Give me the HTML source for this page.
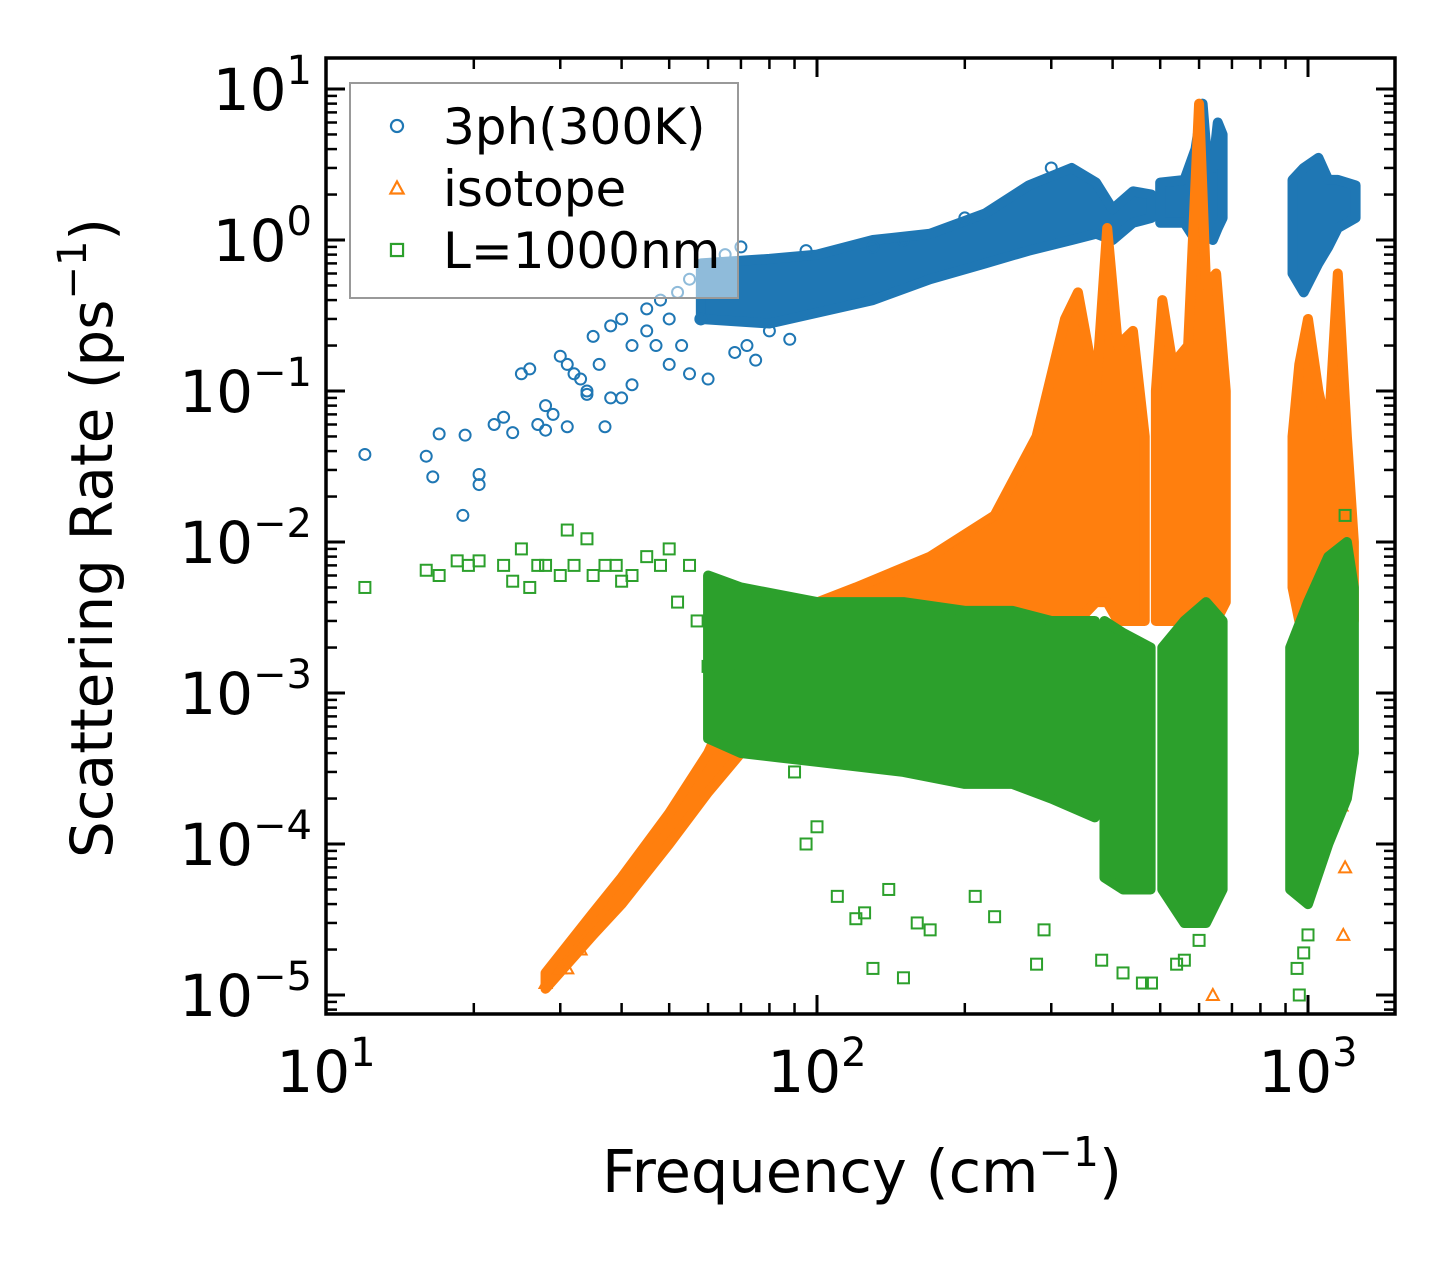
<!DOCTYPE html>
<html><head><meta charset="utf-8"><style>
html,body{margin:0;padding:0;background:#fff}
svg text{font-family:"DejaVu Sans","Liberation Sans",sans-serif;fill:#000}
</style></head><body>
<svg id="chart" width="1455" height="1265" viewBox="0 0 1455 1265" xmlns="http://www.w3.org/2000/svg">
<rect width="1455" height="1265" fill="#fff"/>
<g id="marks"></g>
<g id="axes"></g>
<g id="legend"></g>
</svg>
<script>
// ---- data ----
const xTickValues=[10,100,1000];
const xTickExps=["1","2","3"];
const yTickValues=[10,1,0.1,0.01,0.001,0.0001,0.00001];
const yTickExps=["1","0","−1","−2","−3","−4","−5"];
const blueBands=[
 [[58,0.3,0.7],[80,0.28,0.75],[100,0.33,0.8],[130,0.4,1.0],[170,0.55,1.1],[220,0.7,1.5],[270,0.85,2.3],[330,1.0,3.0],[370,1.1,2.4],[400,1.0,1.6],[440,1.3,2.1],[480,1.4,2.0]],
 [[500,1.3,2.4],[560,1.3,2.5],[590,1.0,4],[610,1.2,8],[625,1.1,3],[640,1.0,3],[655,1.2,6],[670,1.4,5]],
 [[930,0.6,2.5],[980,0.45,3],[1050,0.7,3.5],[1100,0.9,2.5],[1150,1.2,2.5],[1250,1.4,2.3]]
];
const bluePoints=[[12,0.038],[16,0.037],[16.5,0.027],[17,0.052],[19,0.015],[19.2,0.051],[20.5,0.028],[20.5,0.024],[22,0.06],[23,0.067],[24,0.053],[25,0.13],[26,0.14],[27,0.06],[28,0.055],[28,0.08],[29,0.07],[30,0.17],[31,0.058],[31,0.15],[32,0.13],[33,0.12],[34,0.1],[34,0.095],[35,0.23],[36,0.15],[37,0.058],[38,0.27],[38,0.09],[40,0.3],[40,0.09],[42,0.2],[42,0.11],[45,0.25],[45,0.35],[47,0.2],[48,0.4],[50,0.3],[50,0.15],[52,0.45],[53,0.2],[55,0.55],[55,0.13],[58,0.3],[60,0.12],[62,0.6],[65,0.8],[68,0.18],[70,0.9],[72,0.2],[75,0.16],[80,0.25],[88,0.22],[95,0.85],[130,0.9],[150,1.0],[200,1.4],[300,3.0]];
const orangeBands=[
 [[28,1.1e-5,1.4e-5],[35,2.5e-5,3.5e-5],[40,4e-5,6e-5],[50,1e-4,1.6e-4],[60,2.2e-4,4e-4],[70,4e-4,1.2e-3],[80,6e-4,3e-3],[120,8e-4,5e-3],[170,1e-3,8e-3],[230,2e-3,1.5e-2],[280,3e-3,0.05],[320,3e-3,0.3],[340,3e-3,0.45],[370,4e-3,0.1],[390,4e-3,1.2],[410,3e-3,0.2],[440,3e-3,0.25],[465,3e-3,0.05]],
 [[490,3e-3,0.1],[505,3e-3,0.4],[530,3e-3,0.15],[570,3e-3,0.2],[600,3e-3,8],[620,3e-3,0.5],[650,3e-3,0.6],[680,4e-3,0.1]],
 [[930,5e-3,0.05],[960,3e-3,0.15],[1000,2e-3,0.3],[1050,3e-3,0.1],[1100,2e-3,0.05],[1150,3e-3,0.6],[1200,3e-3,0.05],[1240,3e-3,0.01]]
];
const orangePoints=[[28,1.2e-5],[30,1.5e-5],[31,1.5e-5],[33,2e-5],[640,1e-5],[1180,2.5e-5],[1190,7e-5],[1170,1.8e-4],[660,1.2e-4]];
const greenBands=[
 [[60,5e-4,6e-3],[70,4e-4,5e-3],[100,3.5e-4,4e-3],[150,3e-4,4e-3],[200,2.5e-4,3.5e-3],[250,2.5e-4,3.5e-3],[300,2e-4,3e-3],[368,1.5e-4,3e-3]],
 [[385,6e-5,3e-3],[420,5e-5,2.5e-3],[478,5e-5,2e-3]],
 [[505,5e-5,2e-3],[560,3e-5,3e-3],[620,3e-5,4e-3],[670,5e-5,3e-3]],
 [[920,5e-5,2e-3],[1000,4e-5,4e-3],[1100,1e-4,8e-3],[1200,2e-4,1e-2],[1240,4e-4,5e-3]]
];
const greenPoints=[[12,5e-3],[16,6.5e-3],[17,6e-3],[18.5,7.5e-3],[19.5,7e-3],[20.5,7.5e-3],[23,7e-3],[24,5.5e-3],[25,9e-3],[26,5e-3],[27,7e-3],[28,7e-3],[30,6e-3],[31,1.2e-2],[32,7e-3],[34,1.05e-2],[35,6e-3],[37,7e-3],[39,7e-3],[40,5.5e-3],[42,6e-3],[45,8e-3],[48,7e-3],[50,9e-3],[52,4e-3],[55,7e-3],[57,3e-3],[60,1.5e-3],[62,2e-3],[65,1e-3],[67,7.5e-4],[70,1.3e-3],[75,5e-4],[90,3e-4],[95,1e-4],[100,1.3e-4],[110,4.5e-5],[120,3.2e-5],[125,3.5e-5],[130,1.5e-5],[140,5e-5],[150,1.3e-5],[160,3e-5],[170,2.7e-5],[210,4.5e-5],[230,3.3e-5],[280,1.6e-5],[290,2.7e-5],[380,1.7e-5],[420,1.4e-5],[460,1.2e-5],[480,1.2e-5],[540,1.6e-5],[560,1.7e-5],[600,2.3e-5],[950,1.5e-5],[960,1e-5],[980,1.9e-5],[1000,2.5e-5],[1190,1.5e-2]];

// ---- axes ----
const X0=326,X1=1395,Y0=58,Y1=1014,DX=491,DY=151;
function xs(f){return X0+DX*Math.log10(f/10);}
function ys(v){return 240-DY*Math.log10(v);}
const NS="http://www.w3.org/2000/svg";
function mk(tag,attrs,parent){const e=document.createElementNS(NS,tag);for(const k in attrs)e.setAttribute(k,attrs[k]);parent.appendChild(e);return e;}
const marks=document.getElementById('marks'),axes=document.getElementById('axes'),leg=document.getElementById('legend');
const C={b:"#1f77b4",o:"#ff7f0e",g:"#2ca02c"};
function bands(list,color,name){
 list.forEach(seg=>{
  let top=seg.map(p=>xs(p[0])+","+ys(p[2]));
  let bot=seg.slice().reverse().map(p=>xs(p[0])+","+ys(p[1]));
  const e=mk('polygon',{points:top.concat(bot).join(" "),fill:color,stroke:color,'stroke-width':10,'stroke-linejoin':'round'},marks);
  
  
 });
}
function circle(x,y,c,p,s){s=s||1;return mk('circle',{cx:x,cy:y,r:5.5*s,fill:'none',stroke:c,'stroke-width':2*s},p);}
function tri(x,y,c,p,s){s=s||1;return mk('polygon',{points:`${x},${y-6*s} ${x-6*s},${y+5*s} ${x+6*s},${y+5*s}`,fill:'none',stroke:c,'stroke-width':2*s},p);}
function sq(x,y,c,p,s){s=s||1;return mk('rect',{x:x-5.5*s,y:y-5.5*s,width:11*s,height:11*s,fill:'none',stroke:c,'stroke-width':2*s},p);}
bands(blueBands,C.b,'3ph-dense-cloud');
bluePoints.forEach(p=>{const e=circle(xs(p[0]),ys(p[1]),C.b,marks);
 
 });
bands(orangeBands,C.o,'isotope-dense-cloud');
orangePoints.forEach(p=>{const e=tri(xs(p[0]),ys(p[1]),C.o,marks);
 
 });
bands(greenBands,C.g,'boundary-dense-cloud');
greenPoints.forEach(p=>{const e=sq(xs(p[0]),ys(p[1]),C.g,marks);
 
 });

// ticks
function line(x1,y1,x2,y2,w){return mk('line',{x1,y1,x2,y2,stroke:'#000','stroke-width':w},axes);}
for(let d=10;d<=1000;d*=10){
 for(let m=1;m<=9;m++){
  const f=d*m; const x=xs(f); if(x<X0-1||x>X1+1)continue;
  const L=m===1?19:11, w=m===1?3:2.5;
  line(x,Y1,x,Y1-L,w); line(x,Y0,x,Y0+L,w);
 }
}
for(let e=-6;e<=1;e++){
 for(let m=1;m<=9;m++){
  const v=m*Math.pow(10,e); const y=ys(v); if(y<Y0-1||y>Y1+1)continue;
  const L=m===1?19:11, w=m===1?3:2.5;
  line(X0,y,X0+L,y,w); line(X1,y,X1-L,y,w);
 }
}
mk('rect',{x:X0,y:Y0,width:X1-X0,height:Y1-Y0,fill:'none',stroke:'#000','stroke-width':3.5},axes);
xTickValues.forEach((v,i)=>{
 const t=mk('text',{x:xs(v),y:1092,'text-anchor':'middle','font-size':58},axes);
 
 
 t.innerHTML=`10<tspan dy="-26" font-size="40">${xTickExps[i]}</tspan>`;
});
yTickValues.forEach((v,i)=>{
 const t=mk('text',{x:312,y:ys(v)+21,'text-anchor':'end','font-size':58},axes);
 
 
 t.innerHTML=`10<tspan dy="-26" font-size="40">${yTickExps[i]}</tspan>`;
});
const xl=mk('text',{x:862,y:1192,'text-anchor':'middle','font-size':59},axes);


xl.innerHTML='Frequency (cm<tspan dy="-26" font-size="41">−1</tspan><tspan dy="26">)</tspan>';
const yl=mk('text',{x:0,y:0,'text-anchor':'middle','font-size':58,transform:'translate(112,538) rotate(-90)'},axes);


yl.innerHTML='Scattering Rate (ps<tspan dy="-26" font-size="40">−1</tspan><tspan dy="26">)</tspan>';

// legend
mk('rect',{x:350,y:83,width:388,height:215,fill:'#fff','fill-opacity':0.5,stroke:'#999','stroke-width':2},leg);
const items=[["3ph(300K)",circle,C.b,'legend-entry-3ph'],["isotope",tri,C.o,'legend-entry-isotope'],["L=1000nm",sq,C.g,'legend-entry-boundary']];
items.forEach((it,i)=>{
 const y=126+i*62;
 const g=mk('g',{},leg);
 
 
 it[1](397,y,it[2],g,1.1);
 const t=mk('text',{x:443,y:y+18,'font-size':50},g);
 t.textContent=it[0];
});
</script>
</body></html>
